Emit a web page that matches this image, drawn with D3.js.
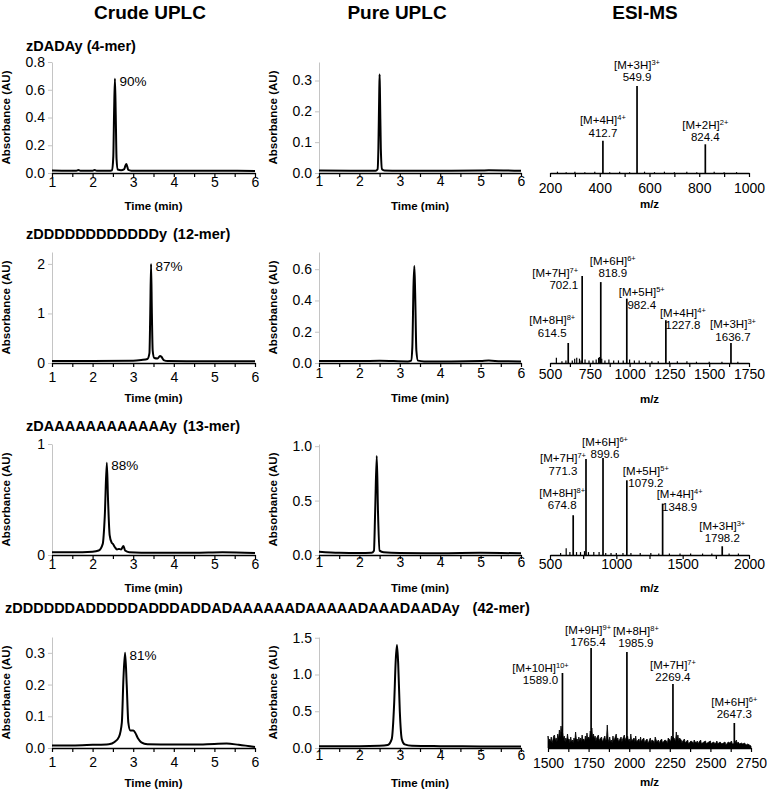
<!DOCTYPE html>
<html>
<head>
<meta charset="utf-8">
<script src="https://cdn.jsdelivr.net/npm/d3@7"></script>
<style>
  body { margin: 0; background: #fff; }
  text { font-family: "Liberation Sans", Arial, sans-serif; }
</style>
</head>
<body>
<div id="fig"></div>
<script>

// ---------- DATA ----------
var colTitles = ["Crude UPLC", "Pure UPLC", "ESI-MS"];
var rowSeqs = ["zDADAy", "zDDDDDDDDDDDDy", "zDAAAAAAAAAAAAy",
  "zDDDDDDADDDDDADDDADDADAAAAAADAAAAADAAADAADAy"];
var rowLengths = ["(4-mer)", "(12-mer)", "(13-mer)", "(42-mer)"];

// chromatograms: [time (min), absorbance (AU)]
var crude4 = [[1.00,0.018],[1.30,0.017],[1.60,0.017],[1.65,0.022],[1.70,0.017],[2.00,0.016],[2.05,0.021],[2.10,0.016],
  [2.40,0.016],[2.48,0.02],[2.51,0.12],[2.53,0.45],[2.55,0.68],[2.57,0.42],[2.59,0.10],[2.62,0.025],[2.70,0.02],
  [2.78,0.028],[2.81,0.055],[2.83,0.065],[2.85,0.05],[2.88,0.022],[2.95,0.017],[3.5,0.016],[4.0,0.016],[5.0,0.016],[6.0,0.015]];
var pure4 = [[1,0.008],[2,0.007],[2.40,0.007],[2.45,0.012],[2.47,0.08],[2.49,0.25],[2.50,0.32],[2.51,0.25],[2.53,0.08],
  [2.56,0.012],[2.62,0.008],[3,0.007],[4,0.007],[5,0.008],[5.2,0.009],[6,0.007]];
var crude12 = [[1,0.04],[2,0.04],[3,0.045],[3.2,0.06],[3.35,0.08],[3.40,0.2],[3.42,1.0],[3.44,2.0],[3.46,1.0],[3.48,0.25],
  [3.52,0.1],[3.6,0.09],[3.66,0.14],[3.70,0.12],[3.75,0.06],[3.85,0.04],[4.5,0.035],[5,0.035],[6,0.035]];
var pure12 = [[1,0.012],[2,0.012],[2.5,0.014],[3.2,0.01],[3.28,0.015],[3.31,0.1],[3.34,0.5],[3.36,0.62],[3.38,0.45],
  [3.41,0.08],[3.45,0.015],[3.6,0.01],[4,0.01],[5,0.012],[5.2,0.016],[5.5,0.011],[6,0.01]];
var crude13 = [[1,0.025],[1.5,0.025],[2.0,0.03],[2.15,0.04],[2.25,0.1],[2.3,0.35],[2.35,0.83],[2.38,0.5],[2.42,0.18],
  [2.47,0.11],[2.5,0.1],[2.55,0.07],[2.6,0.05],[2.65,0.055],[2.7,0.05],[2.76,0.08],[2.8,0.04],[2.9,0.025],[3.5,0.02],
  [4.5,0.02],[5.2,0.025],[6,0.018]];
var pure13 = [[1,0.03],[1.5,0.02],[2,0.018],[2.3,0.02],[2.36,0.04],[2.39,0.4],[2.43,0.91],[2.46,0.4],[2.5,0.04],
  [2.6,0.025],[3,0.018],[4,0.016],[5,0.02],[6,0.015]];
var crude42 = [[1,0.008],[1.5,0.008],[2,0.01],[2.4,0.012],[2.55,0.02],[2.65,0.035],[2.72,0.08],[2.76,0.22],[2.8,0.30],
  [2.84,0.2],[2.88,0.08],[2.93,0.055],[3.0,0.055],[3.05,0.048],[3.12,0.03],[3.2,0.018],[3.35,0.012],[4,0.011],
  [4.5,0.011],[5,0.013],[5.3,0.014],[5.6,0.01],[6,0.003]];
var pure42 = [[1,0.025],[2,0.025],[2.5,0.03],[2.7,0.04],[2.8,0.12],[2.86,0.6],[2.9,1.2],[2.93,1.4],[2.96,1.15],[3.0,0.5],
  [3.05,0.12],[3.12,0.05],[3.3,0.03],[4,0.025],[5,0.022],[6,0.02]];
var crudePurity = ["90%", "87%", "88%", "81%"];

// tick labels
var timeTicks = [1, 1.5, 2, 2.5, 3, 3.5, 4, 4.5, 5, 5.5, 6];
var crudeYTicks = [[0, 0.2, 0.4, 0.6, 0.8], [0, 1, 2], [0, 1], [0, 0.1, 0.2, 0.3]];
var pureYTicks = [[0, 0.1, 0.2, 0.3], [0, 0.2, 0.4, 0.6], [0, 0.5, 1.0], [0, 0.5, 1.0, 1.5]];
var crudeYMax = [0.8, 2.24, 1.0, 0.35];
var pureYMax = [0.36, 0.71, 1.02, 1.51];
var crudeFmt = [".1f", "d", "d", ".1f"];
var pureFmt = [".1f", ".1f", ".1f", ".1f"];

// ESI-MS: m/z, relative intensity (%), charge
var ms4Mz = [412.7, 549.9, 824.4], ms4Int = [37, 100, 33], ms4Z = [4, 3, 2];
var ms12Mz = [614.5, 702.1, 818.9, 982.4, 1227.8, 1636.7], ms12Int = [23, 100, 93, 74, 49, 23], ms12Z = [8, 7, 6, 5, 4, 3];
var ms13Mz = [674.8, 771.3, 899.6, 1079.2, 1348.9, 1798.2], ms13Int = [41, 99, 100, 77, 53, 9], ms13Z = [8, 7, 6, 5, 4, 3];
var ms42Mz = [1589.0, 1765.4, 1985.9, 2269.4, 2647.3], ms42Int = [75, 100, 96, 64, 25], ms42Z = [10, 9, 8, 7, 6];

// minor signals [m/z, intensity %]
var msNoise4 = [[230,1.5],[265,1],[300,1.5],[340,1],[380,1.5],[440,1],[480,1.5],[520,1],[580,1.5],[620,1],[660,1.5],
  [700,1],[750,1.5],[790,1],[860,1.5],[900,1],[950,1]];
var msNoise12 = [[540,6],[575,2],[600,3],[640,3],[655,5],[668,6],[685,5],[695,3],[720,4],[745,3],[770,3],[790,4],
  [805,6],[812,7],[825,5],[845,3],[870,4],[900,3],[930,3],[960,3],[1000,4],[1030,3],[1060,3],[1100,2],[1140,2],
  [1180,2],[1250,2],[1300,2],[1360,2],[1420,1.5],[1500,1.5],[1580,1.5],[1680,1.5]];
var msNoise13 = [[580,2],[622,7],[650,3],[700,3],[730,3],[760,4],[790,3],[830,3],[870,3],[920,2],[960,2],[1000,2],
  [1050,2],[1110,2],[1180,2],[1260,2],[1320,1.5],[1400,1.5],[1480,1.5],[1560,1.5],[1650,1.5],[1720,1.5],[1850,1.5],[1920,1.5]];
var msNoise42 = [
  [1500,12],[1505,7],[1510,9],[1515,6],[1520,11],[1525,5],[1530,8],[1535,12],[1540,13],[1545,7],[1550,10],[1555,6],
  [1560,14],[1565,9],[1570,18],[1575,11],[1580,22],[1585,16],[1590,15],[1595,9],
  [1600,12],[1605,6],[1610,10],[1615,7],[1620,14],[1625,8],[1630,9],[1635,5],[1640,11],[1645,6],[1650,8],[1655,5],
  [1660,10],[1665,7],[1670,16],[1675,8],[1680,9],[1685,6],[1690,11],[1695,7],
  [1700,10],[1705,6],[1710,13],[1715,8],[1720,9],[1725,6],[1730,12],[1735,8],[1740,15],[1745,9],[1750,11],[1755,8],
  [1760,17],[1765,12],[1770,20],[1775,10],[1780,14],[1785,9],[1790,12],[1795,7],
  [1800,10],[1810,13],[1815,7],[1820,9],[1830,11],[1835,6],[1840,8],[1850,12],[1855,7],[1860,9],[1865,23],[1870,9],
  [1875,6],[1880,11],[1885,6],[1890,8],[1895,5],
  [1900,12],[1905,7],[1910,9],[1920,14],[1925,8],[1930,10],[1935,6],[1940,8],[1950,11],[1955,6],[1960,9],[1970,13],
  [1975,7],[1980,10],[1990,12],[1995,7],
  [2000,9],[2005,6],[2010,14],[2015,7],[2020,8],[2030,10],[2035,6],[2040,12],[2045,6],[2050,7],[2060,9],[2065,5],
  [2070,11],[2075,6],[2080,8],[2090,10],[2095,5],
  [2100,7],[2110,9],[2115,5],[2120,6],[2130,10],[2135,5],[2140,8],[2150,7],[2155,4],[2160,11],[2170,6],[2180,8],
  [2185,4],[2190,7],
  [2200,9],[2205,5],[2210,6],[2220,8],[2230,7],[2235,4],[2240,10],[2250,8],[2255,6],[2260,12],[2265,8],[2270,11],
  [2280,9],[2285,6],[2290,16],[2295,9],
  [2300,13],[2305,7],[2310,10],[2320,8],[2325,5],[2330,7],[2340,9],[2345,5],[2350,6],[2360,8],[2365,4],[2370,5],
  [2380,7],[2390,6],[2395,4],
  [2400,8],[2410,5],[2420,7],[2425,4],[2430,6],[2440,8],[2445,4],[2450,5],[2460,6],[2470,7],[2475,4],[2480,5],[2490,6],
  [2500,7],[2505,4],[2510,5],[2520,6],[2530,4],[2540,7],[2545,4],[2550,5],[2560,6],[2570,4],[2580,5],[2590,6],[2595,3],
  [2600,4],[2610,6],[2620,5],[2630,7],[2635,4],[2640,4],[2650,5],[2660,8],[2665,4],[2670,6],[2680,4],[2690,5],
  [2700,4],[2710,5],[2720,3],[2730,4],[2740,3],[2750,2]];

var msDomains = [[200, 1000], [500, 1750], [500, 2000], [1500, 2750]];
var msTicks = [[200, 400, 600, 800, 1000], [500, 750, 1000, 1250, 1500, 1750], [500, 1000, 1500, 2000],
  [1500, 1750, 2000, 2250, 2500, 2750]];

// ---------- LAYOUT ----------
var W = 767, H = 791;
var axisY = [173, 363, 555, 748];
var plotH = 111;
var crudeX = [52, 255], pureX = [319, 521];
var msX = [[550, 749], [550, 749], [550, 749], [548, 751]];
var msFull = [87, 87, 97, 100];
var colTitleX = [150, 397, 645], colTitleY = 19;
var rowTitleX = [26, 26, 26, 5], rowTitleY = [51, 239, 431, 613], rowGap = [0, 2, 2, 9];
var gapCrude = [4, 9, 4, 9], gapPure = [3, 5, 2, 2], gapMs = [10, 6, 4, 10];
var timeLabDy = [33, 35, 33, 35], mzLabDy = [31, 36, 33, 34];
// label placement for each MS peak: [dx, mass-line centre offset from peak top, anchor]
var msLabelPos = [
  [[0,-8,"middle"], [0,-9,"middle"], [0,-7,"middle"]],
  [[-16,-10,"middle"], [-4,9,"end"], [12,-9,"middle"], [15,6,"middle"], [17,5,"middle"], [2,-6,"middle"]],
  [[-11,-10,"middle"], [-23,12,"middle"], [2,-4,"middle"], [19,3,"middle"], [17,3,"middle"], [0,-8,"middle"]],
  [[-22,7,"middle"], [-3,-6,"middle"], [9,-9,"middle"], [0,-7,"middle"], [0,-9,"middle"]]
];

var svg = d3.select("#fig").append("svg")
  .attr("width", W).attr("height", H);

// column titles
svg.selectAll("text.col")
  .data(colTitles)
  .enter().append("text")
    .attr("class", "col")
    .attr("x", function(d, i) { return colTitleX[i]; })
    .attr("y", colTitleY)
    .attr("text-anchor", "middle")
    .style("font-size", "19px")
    .style("font-weight", "bold")
    .text(function(d) { return d; });

// row titles
var rt = svg.selectAll("text.rowt")
  .data(rowSeqs)
  .enter().append("text")
    .attr("class", "rowt")
    .attr("x", function(d, i) { return rowTitleX[i]; })
    .attr("y", function(d, i) { return rowTitleY[i]; })
    .style("font-size", "14.5px")
    .style("font-weight", "bold");
rt.append("tspan").text(function(d) { return d + " "; });
rt.append("tspan")
  .attr("dx", function(d, i) { return rowGap[i]; })
  .text(function(d, i) { return rowLengths[i]; });

function cleanAxis(ax) {
  ax.attr("font-family", null).attr("font-size", null);
  ax.selectAll("text").style("font-size", "14px").attr("fill", "#000");
}

function chromatogram(data, xr, row, yMax, yTicks, fmt, gap, ylabX, purity) {
  var g = svg.append("g");
  var x = d3.scaleLinear().domain([1, 6]).range(xr);
  var y = d3.scaleLinear().domain([0, yMax]).range([axisY[row], axisY[row] - plotH]);

  // Y axis (light grey)
  var ya = g.append("g")
    .attr("transform", "translate(" + xr[0] + ",0)")
    .call(d3.axisLeft(y).tickValues(yTicks).tickFormat(d3.format(fmt)).tickSize(4).tickSizeOuter(0).tickPadding(3));
  cleanAxis(ya);
  ya.select(".domain").attr("stroke", "#c4c4c4");
  ya.selectAll(".tick line").attr("stroke", "#c4c4c4");

  // trace
  g.append("path")
    .datum(data)
    .attr("fill", "none")
    .attr("stroke", "#000")
    .attr("stroke-width", 2)
    .attr("stroke-linejoin", "round")
    .attr("d", d3.line()
      .x(function(d) { return x(d[0]); })
      .y(function(d) { return y(d[1]); })
      .curve(d3.curveMonotoneX));

  // X axis
  var xa = g.append("g")
    .attr("transform", "translate(0," + axisY[row] + ")")
    .call(d3.axisBottom(x).tickValues(timeTicks)
      .tickFormat(function(d) { return d % 1 === 0 ? d : ""; })
      .tickSize(4).tickSizeOuter(0).tickPadding(gap - 4));
  cleanAxis(xa);
  xa.select(".domain").attr("stroke-width", 1.4);
  xa.selectAll(".tick line").attr("stroke-width", 1.2);

  // axis titles
  g.append("text")
    .attr("x", (xr[0] + xr[1]) / 2)
    .attr("y", axisY[row] + timeLabDy[row] + 4)
    .attr("text-anchor", "middle")
    .style("font-size", "11.5px").style("font-weight", "bold")
    .text("Time (min)");
  g.append("text")
    .attr("transform", "translate(" + (ylabX + 4) + "," + (axisY[row] - plotH / 2) + ") rotate(-90)")
    .attr("text-anchor", "middle")
    .style("font-size", "11.5px").style("font-weight", "bold")
    .text("Absorbance (AU)");

  if (purity) {
    var top = data.reduce(function(a, b) { return b[1] > a[1] ? b : a; });
    g.append("text")
      .attr("x", x(top[0]) + 4.5)
      .attr("y", y(top[1]) + 7)
      .style("font-size", "13.5px")
      .text(purity);
  }
}

function spectrum(mz, inten, charge, noise, row, filled) {
  var g = svg.append("g");
  var x = d3.scaleLinear().domain(msDomains[row]).range(msX[row]);
  var y = d3.scaleLinear().domain([0, 100]).range([axisY[row], axisY[row] - msFull[row]]);

  if (filled) {
    // dense baseline noise drawn as a filled trace
    g.append("path")
      .datum(noise)
      .attr("fill", "#000")
      .attr("stroke", "#000")
      .attr("stroke-width", 0.8)
      .attr("d", d3.area()
        .x(function(d) { return x(d[0]); })
        .y0(y(0))
        .y1(function(d) { return y(d[1]); }));
  } else {
    g.selectAll("line.noise")
      .data(noise)
      .enter().append("line")
        .attr("x1", function(d) { return x(d[0]); })
        .attr("x2", function(d) { return x(d[0]); })
        .attr("y1", y(0))
        .attr("y2", function(d) { return y(d[1]); })
        .attr("stroke", "#000")
        .attr("stroke-width", 1.2);
  }

  var peaks = mz.map(function(m, i) { return {mz: m, i: inten[i], z: charge[i], pos: msLabelPos[row][i]}; });

  g.selectAll("line.peak")
    .data(peaks)
    .enter().append("line")
      .attr("x1", function(d) { return x(d.mz); })
      .attr("x2", function(d) { return x(d.mz); })
      .attr("y1", y(0))
      .attr("y2", function(d) { return y(d.i); })
      .attr("stroke", "#000")
      .attr("stroke-width", 1.7);

  var lab = g.selectAll("g.lab")
    .data(peaks)
    .enter().append("g");
  lab.append("text")
    .attr("x", function(d) { return x(d.mz) + d.pos[0]; })
    .attr("y", function(d) { return y(d.i) + d.pos[1] + 4; })
    .attr("text-anchor", function(d) { return d.pos[2]; })
    .style("font-size", "11.5px")
    .text(function(d) { return d.mz.toFixed(1); });
  var ion = lab.append("text")
    .attr("x", function(d) { return x(d.mz) + d.pos[0]; })
    .attr("y", function(d) { return y(d.i) + d.pos[1] + 4 - 12.5; })
    .attr("text-anchor", function(d) { return d.pos[2]; })
    .style("font-size", "11.5px");
  ion.append("tspan").text(function(d) { return "[M+" + d.z + "H]"; });
  ion.append("tspan").attr("dy", -4).style("font-size", "7.5px").text(function(d) { return d.z + "+"; });

  var t = msTicks[row];
  var minor = [];
  for (var k = 0; k < t.length - 1; k++) minor.push((t[k] + t[k + 1]) / 2);

  var xa = g.append("g")
    .attr("transform", "translate(0," + axisY[row] + ")")
    .call(d3.axisBottom(x).tickValues(t).tickFormat(d3.format("d"))
      .tickSize(4).tickSizeOuter(0).tickPadding(gapMs[row] - 4));
  cleanAxis(xa);
  xa.select(".domain").attr("stroke-width", 1.4);
  xa.selectAll(".tick line").attr("stroke-width", 1.2);
  g.append("g")
    .attr("transform", "translate(0," + axisY[row] + ")")
    .call(d3.axisBottom(x).tickValues(minor).tickFormat("").tickSize(4).tickSizeOuter(0))
    .call(function(a) { a.select(".domain").remove(); a.selectAll("line").attr("stroke-width", 1.2); });

  g.append("text")
    .attr("x", (msX[row][0] + msX[row][1]) / 2)
    .attr("y", axisY[row] + mzLabDy[row] + 4)
    .attr("text-anchor", "middle")
    .style("font-size", "11.5px").style("font-weight", "bold")
    .text("m/z");
}

var crudeSets = [crude4, crude12, crude13, crude42];
var pureSets = [pure4, pure12, pure13, pure42];
for (var r = 0; r < 4; r++) {
  chromatogram(crudeSets[r], crudeX, r, crudeYMax[r], crudeYTicks[r], crudeFmt[r], gapCrude[r], 6, crudePurity[r]);
  chromatogram(pureSets[r], pureX, r, pureYMax[r], pureYTicks[r], pureFmt[r], gapPure[r], 273, null);
}
spectrum(ms4Mz, ms4Int, ms4Z, msNoise4, 0, false);
spectrum(ms12Mz, ms12Int, ms12Z, msNoise12, 1, false);
spectrum(ms13Mz, ms13Int, ms13Z, msNoise13, 2, false);
spectrum(ms42Mz, ms42Int, ms42Z, msNoise42, 3, true);

</script>
</body>
</html>
